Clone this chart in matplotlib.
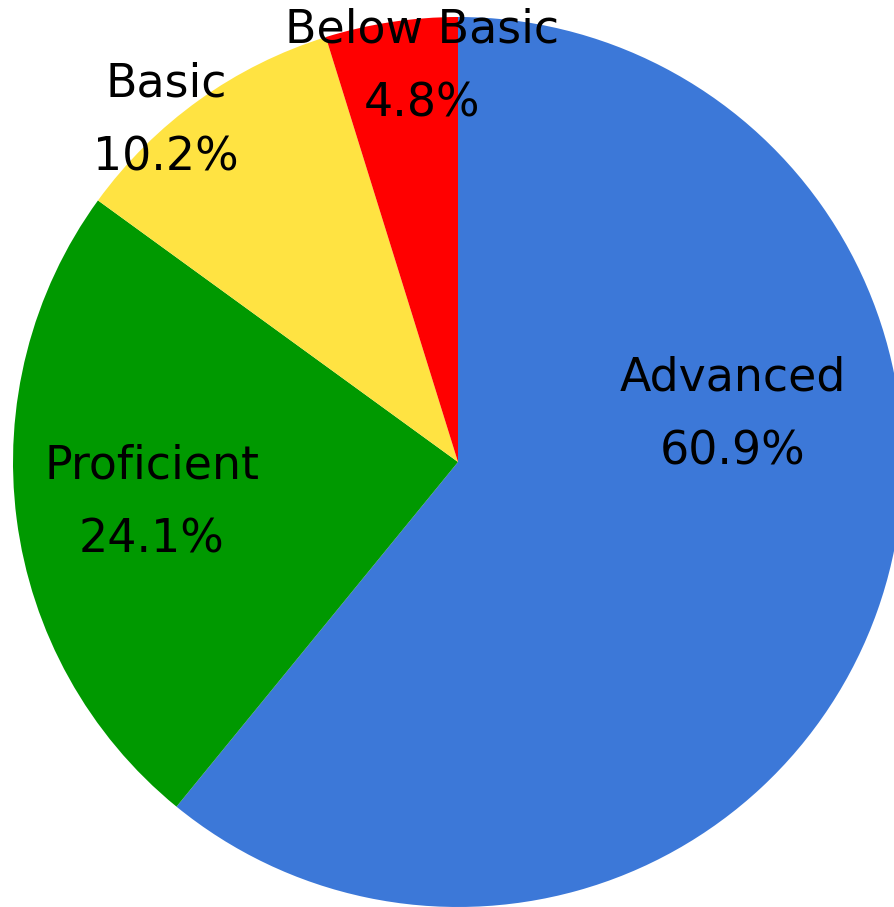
import matplotlib
matplotlib.use('Agg')
import matplotlib.pyplot as plt

labels = ['Advanced', 'Proficient', 'Basic', 'Below Basic']
values = [60.9, 24.1, 10.2, 4.8]
colors = ['#3c78d8', '#009900', '#ffe342', '#ff0000']
# label centres in pixels (name line), percent line sits 74 px below
label_px = [(733, 378), (152, 466), (166, 84), (422, 30)]

W, H = 894, 907
cx, cy, R = 458, 462, 445

def px2d(x, y):
  return (x - cx) / R, (cy - y) / R

fig = plt.figure(figsize=(W / 100, H / 100), dpi=100)
ax = fig.add_axes([0, 0, 1, 1])
ax.pie(values, colors=colors, startangle=90, counterclock=False, radius=1,
       wedgeprops={'linewidth': 0})
ax.set_xlim(-cx / R, (W - cx) / R)
ax.set_ylim(-(H - cy) / R, cy / R)
ax.set_aspect('auto')
ax.set_axis_off()

for name, v, (x, y) in zip(labels, values, label_px):
  x1, y1 = px2d(x, y)
  x2, y2 = px2d(x, y + 74)
  ax.text(x1, y1, name, ha='center', va='center', fontsize=33, color='black')
  ax.text(x2, y2, '%.1f%%' % v, ha='center', va='center', fontsize=33, color='black')

fig.savefig('out.png', dpi=100)
